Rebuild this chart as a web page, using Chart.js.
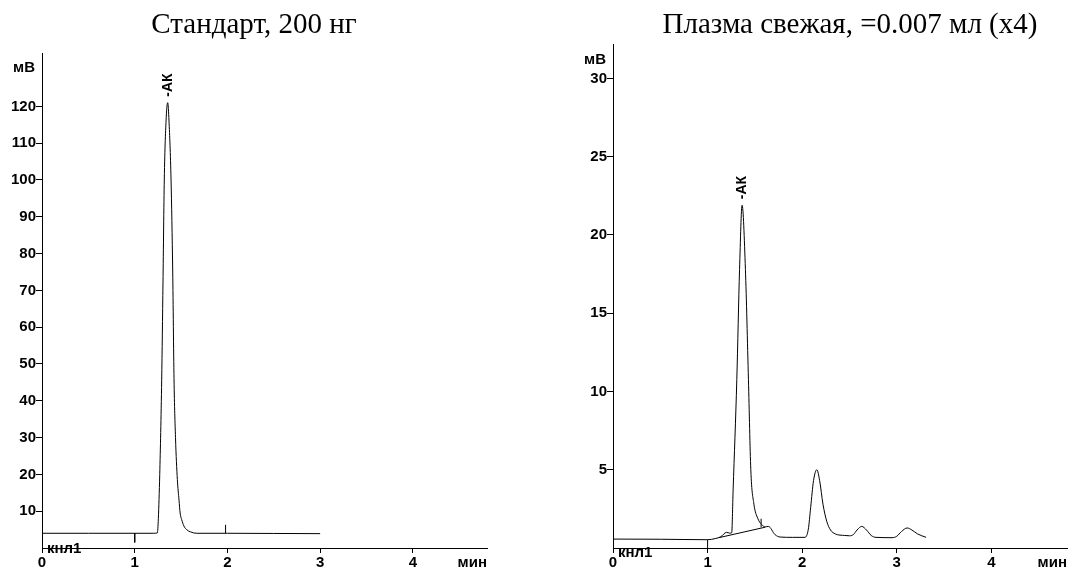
<!DOCTYPE html>
<html>
<head>
<meta charset="utf-8">
<title>Хроматограммы</title>
<script src="https://cdn.jsdelivr.net/npm/chart.js@4.4.1/dist/chart.umd.min.js"></script>
<style>
    html, body { margin: 0; padding: 0; background: #fff; }
    body { width: 1069px; height: 568px; position: relative; overflow: hidden; }
    canvas { position: absolute; top: 0; }
    #stdChart { left: 0; }
    #plasmaChart { left: 534px; }
</style>
</head>
<body>
<canvas id="stdChart" width="534" height="568"></canvas>
<canvas id="plasmaChart" width="535" height="568"></canvas>
<script>
// Time axis (minutes), shared by both chromatograms
const timeTicks = [0, 1, 2, 3, 4];

// Standard, 200 ng
const stdTime   = [0, 0.5, 1.0, 1.2, 1.244, 1.255, 1.27, 1.291, 1.305, 1.319, 1.34, 1.356, 1.37, 1.392, 1.41, 1.424, 1.44, 1.46, 1.478, 1.49, 1.507, 1.53, 1.56, 1.6, 1.67, 2.0, 2.5, 3.0];
const stdSignal = [4.0, 4.0, 4.0, 4.0, 4.1, 8, 20, 45.6, 72, 100, 117, 121, 116, 100, 75, 46, 30, 18.6, 13, 9.5, 7.7, 6.0, 5.0, 4.4, 4.0, 4.0, 3.95, 3.9];
const stdTicks  = [10, 20, 30, 40, 50, 60, 70, 80, 90, 100, 110, 120];
// integration event marks
const stdMarkTime = [1.0, 1.98];
const stdMarkFrom = [4.0, 4.0];
const stdMarkTo   = [1.5, 6.3];

// Fresh plasma, 0.007 ml (x4)
const plasmaTime   = [0, 0.5, 1.0, 1.08, 1.14, 1.2, 1.235, 1.255, 1.27, 1.309, 1.338, 1.365, 1.4, 1.432, 1.457, 1.49, 1.53, 1.573, 1.61, 1.643, 1.714, 1.767, 1.9, 2.03, 2.065, 2.09, 2.12, 2.155, 2.185, 2.22, 2.26, 2.3, 2.35, 2.45, 2.5, 2.54, 2.58, 2.63, 2.68, 2.73, 2.78, 2.95, 3.0, 3.05, 3.11, 3.16, 3.22, 3.31];
const plasmaSignal = [0.57, 0.56, 0.53, 0.6, 0.72, 1.0, 0.95, 0.97, 3.7, 10.75, 17.8, 21.9, 17.8, 10.75, 5.0, 2.8, 1.9, 1.49, 1.35, 1.38, 0.85, 0.7, 0.68, 0.68, 1.2, 2.6, 4.3, 5.0, 4.3, 2.8, 1.7, 1.15, 0.9, 0.8, 0.78, 0.85, 1.15, 1.38, 1.15, 0.8, 0.68, 0.66, 0.75, 1.05, 1.28, 1.15, 0.9, 0.68];
const plasmaTicks  = [5, 10, 15, 20, 25, 30];
const plasmaBaseTime  = [1.12, 1.61];
const plasmaBaseValue = [0.66, 1.33];
const plasmaMarkTime = [1.0, 1.566];
const plasmaMarkFrom = [0, 1.32];
const plasmaMarkTo   = [0.53, 1.87];

const sansFont = '"Liberation Sans", Arial, sans-serif';
const serifFont = '"Liberation Serif", "Times New Roman", serif';

function toPoints(xs, ys) {
    return xs.map(function(x, i) { return { x: x, y: ys[i] }; });
}

function thinLine(points, smooth) {
    return {
        data: points,
        borderColor: '#000',
        borderWidth: 1,
        pointRadius: 0,
        fill: false,
        cubicInterpolationMode: smooth ? 'monotone' : 'default',
        tension: 0
    };
}

/**
 * Titles, unit labels, channel name and peak name
 */
const chromLabels = {
    id: 'chromLabels',
    afterDraw(chart, args, opts) {
        const ctx = chart.ctx;
        const area = chart.chartArea;
        const xs = chart.scales.x;
        const ys = chart.scales.y;
        ctx.save();
        ctx.fillStyle = '#000';

        ctx.font = '29px ' + serifFont;
        ctx.textAlign = 'center';
        ctx.textBaseline = 'alphabetic';
        ctx.fillText(opts.title, opts.titleX, 33);

        ctx.font = 'bold 15px ' + sansFont;
        ctx.textAlign = 'right';
        ctx.textBaseline = 'middle';
        ctx.fillText('мВ', area.left - 7, ys.getPixelForValue(opts.unitValue));

        ctx.textBaseline = 'alphabetic';
        ctx.fillText('мин', area.right, 567);

        ctx.textAlign = 'left';
        ctx.fillText('кнл1', area.left + 5, area.bottom + opts.channelDrop);

        // rotated peak name above the apex
        ctx.font = 'bold 14px ' + sansFont;
        ctx.translate(xs.getPixelForValue(opts.peakTime), ys.getPixelForValue(opts.peakValue) - 6);
        ctx.rotate(-Math.PI / 2);
        ctx.textAlign = 'left';
        ctx.textBaseline = 'middle';
        ctx.fillText('-АК', 0, 0);
        ctx.restore();
    }
};

function makeChromatogram(canvasId, cfg) {
    const canvas = document.getElementById(canvasId);
    const datasets = [thinLine(toPoints(cfg.time, cfg.signal), true)];
    cfg.extra.forEach(function(pts) { datasets.push(thinLine(pts, false)); });

    const tickFont = { family: sansFont, size: 15, weight: 'bold' };

    return new Chart(canvas.getContext('2d'), {
        type: 'line',
        data: { datasets: datasets },
        plugins: [chromLabels],
        options: {
            responsive: false,
            animation: false,
            devicePixelRatio: 1,
            layout: {
                padding: { left: 0, top: cfg.top, right: canvas.width - cfg.right, bottom: 0 }
            },
            plugins: {
                legend: { display: false },
                tooltip: { enabled: false },
                chromLabels: {
                    title: cfg.title,
                    titleX: cfg.titleX,
                    unitValue: cfg.unitValue,
                    peakTime: cfg.peakTime,
                    peakValue: cfg.peakValue,
                    channelDrop: cfg.channelDrop
                }
            },
            scales: {
                x: {
                    type: 'linear',
                    min: 0,
                    max: 4.8,
                    afterBuildTicks: function(s) { s.ticks = timeTicks.map(function(v) { return { value: v }; }); },
                    afterFit: function(s) { s.height = 20; },
                    border: { color: '#000', width: 1 },
                    grid: { drawOnChartArea: false, drawTicks: true, tickLength: 5, color: '#000' },
                    ticks: { color: '#000', font: tickFont, padding: 1, maxRotation: 0, autoSkip: false }
                },
                y: {
                    type: 'linear',
                    min: 0,
                    max: cfg.yMax,
                    afterBuildTicks: function(s) { s.ticks = cfg.yTicks.map(function(v) { return { value: v }; }); },
                    afterFit: function(s) { s.width = cfg.left; },
                    border: { color: '#000', width: 1 },
                    grid: { drawOnChartArea: false, drawTicks: true, tickLength: 6, color: '#000' },
                    ticks: { color: '#000', font: tickFont, padding: 0, autoSkip: false }
                }
            }
        }
    });
}

function markLines(times, from, to) {
    return times.map(function(t, i) { return [{ x: t, y: from[i] }, { x: t, y: to[i] }]; });
}

makeChromatogram('stdChart', {
    time: stdTime,
    signal: stdSignal,
    extra: markLines(stdMarkTime, stdMarkFrom, stdMarkTo),
    yMax: 134.5,
    yTicks: stdTicks,
    left: 42, top: 53, right: 487,
    title: 'Стандарт, 200 нг',
    titleX: 254,
    unitValue: 130.4,
    peakTime: 1.356,
    peakValue: 121,
    channelDrop: 5
});

makeChromatogram('plasmaChart', {
    time: plasmaTime,
    signal: plasmaSignal,
    extra: [toPoints(plasmaBaseTime, plasmaBaseValue)].concat(markLines(plasmaMarkTime, plasmaMarkFrom, plasmaMarkTo)),
    yMax: 32.2,
    yTicks: plasmaTicks,
    left: 79, top: 44, right: 533,
    title: 'Плазма свежая, =0.007 мл (x4)',
    titleX: 316,
    unitValue: 31.2,
    peakTime: 1.365,
    peakValue: 21.9,
    channelDrop: 9
});
</script>
</body>
</html>
